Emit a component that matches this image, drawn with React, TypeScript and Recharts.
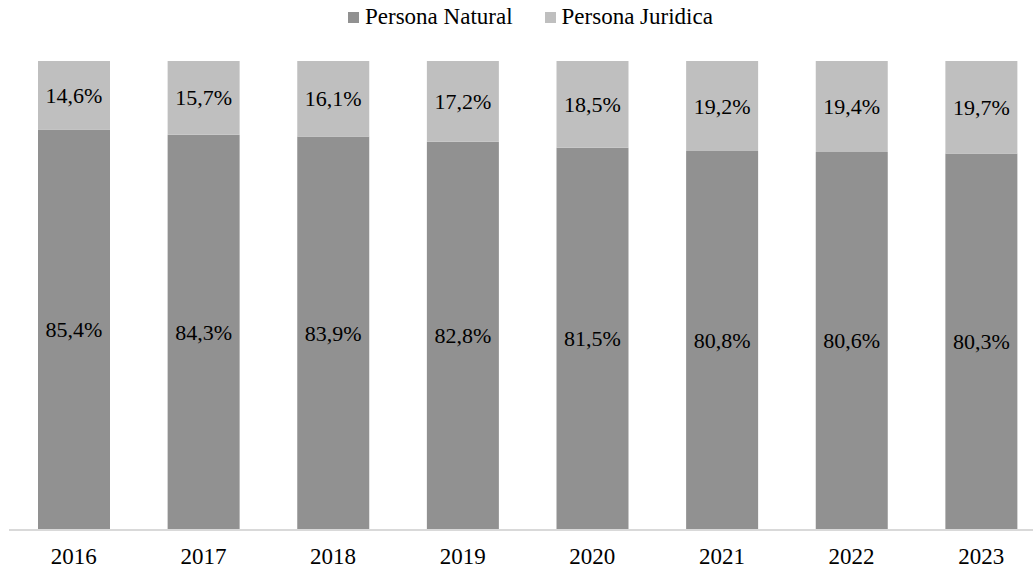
import React from "react";
import { BarChart, Bar, XAxis, YAxis, Legend, LabelList } from "recharts";

const years = ["2016", "2017", "2018", "2019", "2020", "2021", "2022", "2023"];
const natural = [85.4, 84.3, 83.9, 82.8, 81.5, 80.8, 80.6, 80.3];
const juridica = [14.6, 15.7, 16.1, 17.2, 18.5, 19.2, 19.4, 19.7];

const DARK = "#919191";
const LIGHT = "#bfbfbf";
const FONT = "Liberation Serif";

const data = years.map((year, i) => ({
  year,
  natural: natural[i],
  juridica: juridica[i],
}));

const fmt = (v: any) => `${Number(v).toFixed(1).replace(".", ",")}%`;

// value label drawn in the middle of each segment
const SegmentLabel = (props: any) => {
  const { x, y, width, height, value } = props;
  return (
    <text
      x={Number(x) + Number(width) / 2}
      y={Number(y) + Number(height) / 2}
      textAnchor="middle"
      dominantBaseline="central"
      fontFamily={FONT}
      fontSize={22}
      fill="#000"
    >
      {fmt(value)}
    </text>
  );
};

const LegendContent = () => (
  <div style={{ display: "flex", alignItems: "center", fontFamily: FONT, fontSize: 23, color: "#000", lineHeight: "26px" }}>
    {[
      { name: "Persona Natural", color: DARK },
      { name: "Persona Juridica", color: LIGHT },
    ].map((item, i) => (
      <div key={item.name} style={{ display: "flex", alignItems: "center", marginRight: i === 0 ? 32 : 0 }}>
        <div style={{ width: 11, height: 11, background: item.color, marginRight: 6 }} />
        <span style={{ fontFamily: FONT }}>{item.name}</span>
      </div>
    ))}
  </div>
);

export default function App() {
  return (
    <div
      style={{
        position: "absolute",
        left: 0,
        top: 0,
        width: 1033,
        height: 571,
        overflow: "hidden",
        background: "#fff",
        fontFamily: FONT,
      }}
    >
      <BarChart
        width={1047}
        height={571}
        data={data}
        margin={{ top: 35, right: 1, bottom: 11, left: 9 }}
        barSize={72}
      >
        <XAxis
          dataKey="year"
          axisLine={{ stroke: "#d9d9d9", strokeWidth: 2 }}
          tickLine={false}
          tickMargin={12}
          tick={{ fontFamily: FONT, fontSize: 23, fill: "#000" }}
          interval={0}
        />
        <YAxis hide domain={[0, 100]} />
        <Legend
          verticalAlign="top"
          content={<LegendContent />}
          wrapperStyle={{ top: 4, left: 348, width: "auto", fontFamily: FONT }}
        />
        <Bar dataKey="natural" stackId="a" fill={DARK} isAnimationActive={false}>
          <LabelList dataKey="natural" content={<SegmentLabel />} />
        </Bar>
        <Bar dataKey="juridica" stackId="a" fill={LIGHT} isAnimationActive={false}>
          <LabelList dataKey="juridica" content={<SegmentLabel />} />
        </Bar>
      </BarChart>
    </div>
  );
}
